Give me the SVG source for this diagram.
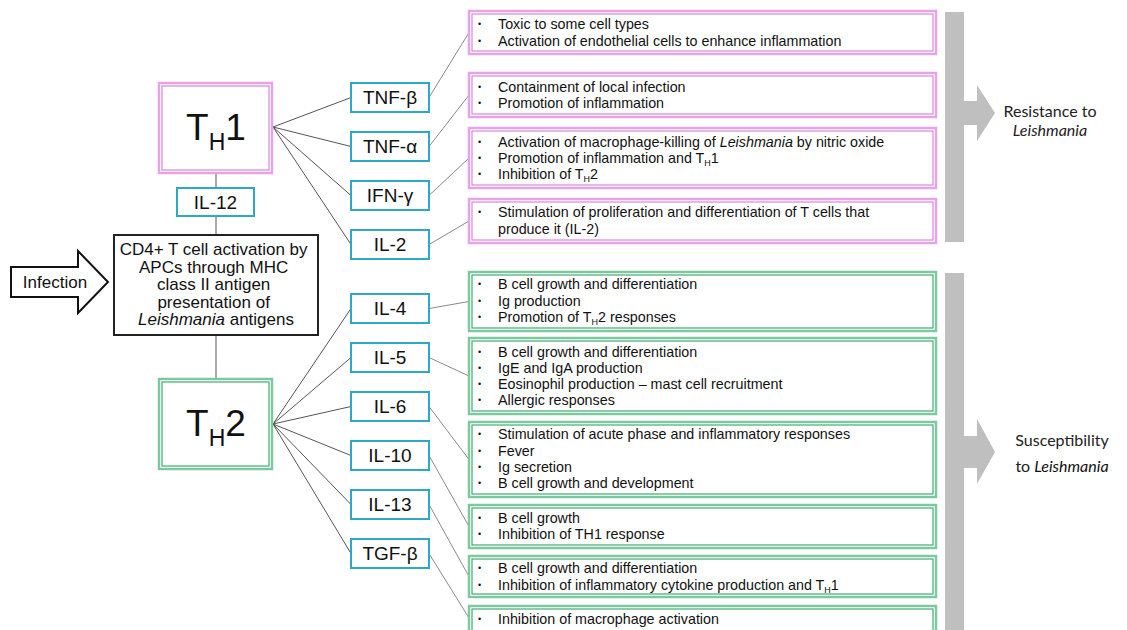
<svg xmlns="http://www.w3.org/2000/svg" width="1127" height="630" viewBox="0 0 1127 630">
<style>
text{font-family:"Liberation Sans",Arial,sans-serif;fill:#111}
tspan{fill:#111}
.cy rect{fill:#fff;stroke:#2ea7c9;stroke-width:2}
.cy text{font-size:19px;text-anchor:middle}
.pk .o{fill:#fff;stroke:#e7a3e7;stroke-width:2.5}
.pk .i{fill:none;stroke:#d987d9;stroke-width:1.2}
.gr .o{fill:#fff;stroke:#7cc9a0;stroke-width:2.5}
.gr .i{fill:none;stroke:#44a874;stroke-width:1.2}
.d{font-size:14.3px}
.b{font-size:9px}
.sub{font-size:9px}
.fan line{stroke:#555;stroke-width:1}
.rt line{stroke:#8a8a8a;stroke-width:1}
.side{font-family:Lato,"Open Sans",sans-serif;font-size:16px;text-anchor:middle;fill:#222}
</style>

<!-- connectors -->
<g id="connectors">
  <g class="fan">
    <line x1="216" y1="173" x2="216" y2="188"/>
    <line x1="216" y1="216" x2="216" y2="235"/>
    <line x1="216" y1="335" x2="216" y2="379"/>
    <line x1="273" y1="127" x2="351" y2="97.5"/>
    <line x1="273" y1="127" x2="351" y2="146.5"/>
    <line x1="273" y1="127" x2="351" y2="195.5"/>
    <line x1="273" y1="127" x2="351" y2="244.5"/>
    <line x1="273" y1="424" x2="351" y2="308.5"/>
    <line x1="273" y1="424" x2="351" y2="357.5"/>
    <line x1="273" y1="424" x2="351" y2="406.5"/>
    <line x1="273" y1="424" x2="351" y2="455.5"/>
    <line x1="273" y1="424" x2="351" y2="504.5"/>
    <line x1="273" y1="424" x2="351" y2="553.5"/>
  </g>
  <g class="rt">
    <line x1="429" y1="97.5" x2="469" y2="32.5"/>
    <line x1="429" y1="146.5" x2="469" y2="95"/>
    <line x1="429" y1="195.5" x2="469" y2="158"/>
    <line x1="429" y1="244.5" x2="469" y2="221"/>
    <line x1="429" y1="308.5" x2="469" y2="301.5"/>
    <line x1="429" y1="357.5" x2="469" y2="376"/>
    <line x1="429" y1="406.5" x2="469" y2="459.5"/>
    <line x1="429" y1="455.5" x2="469" y2="526.5"/>
    <line x1="429" y1="504.5" x2="469" y2="576.5"/>
    <line x1="429" y1="553.5" x2="469" y2="618"/>
  </g>
</g>

<!-- Infection arrow -->
<g id="infection">
  <polygon points="11,267 78,267 78,251 108,282 78,313 78,297 11,297" fill="#fff" stroke="#111" stroke-width="2" stroke-linejoin="miter"/>
  <text x="55" y="288" font-size="17" text-anchor="middle">Infection</text>
</g>

<!-- CD4 box -->
<g id="cd4">
  <rect x="114" y="235" width="204" height="100" fill="#fff" stroke="#222" stroke-width="2"/>
  <text font-size="17" text-anchor="middle">
    <tspan x="216" y="255">CD4+ T cell activation by</tspan>
    <tspan x="216" y="272.5">APCs through MHC</tspan>
    <tspan x="216" y="290">class II antigen</tspan>
    <tspan x="216" y="307.5">presentation of</tspan>
    <tspan x="216" y="325"><tspan font-style="italic">Leishmania</tspan> antigens</tspan>
  </text>
</g>

<!-- TH1 -->
<g id="th1" class="pk">
  <rect class="o" x="159" y="83" width="113" height="90"/>
  <rect class="i" x="162" y="86" width="107" height="84"/>
  <text x="216" y="140" text-anchor="middle"><tspan font-size="37">T</tspan><tspan font-size="23" dy="10">H</tspan><tspan font-size="37" dy="-10">1</tspan></text>
</g>

<!-- TH2 -->
<g id="th2" class="gr">
  <rect class="o" x="159" y="379" width="113" height="90"/>
  <rect class="i" x="162" y="382" width="107" height="84"/>
  <text x="216" y="436" text-anchor="middle"><tspan font-size="37">T</tspan><tspan font-size="23" dy="10">H</tspan><tspan font-size="37" dy="-10">2</tspan></text>
</g>

<!-- IL-12 -->
<g id="il12" class="cy"><rect x="177" y="188" width="77" height="28"/><text x="215.5" y="209">IL-12</text></g>

<!-- TH1 cytokines -->
<g id="tnfb" class="cy"><rect x="351" y="83" width="78" height="29"/><text x="390" y="104">TNF-β</text></g>
<g id="tnfa" class="cy"><rect x="351" y="132" width="78" height="29"/><text x="390" y="153">TNF-α</text></g>
<g id="ifng" class="cy"><rect x="351" y="181" width="78" height="29"/><text x="390" y="202">IFN-γ</text></g>
<g id="il2" class="cy"><rect x="351" y="230" width="78" height="29"/><text x="390" y="251">IL-2</text></g>

<!-- TH2 cytokines -->
<g id="il4" class="cy"><rect x="351" y="294" width="78" height="29"/><text x="390" y="315">IL-4</text></g>
<g id="il5" class="cy"><rect x="351" y="343" width="78" height="29"/><text x="390" y="364">IL-5</text></g>
<g id="il6" class="cy"><rect x="351" y="392" width="78" height="29"/><text x="390" y="413">IL-6</text></g>
<g id="il10" class="cy"><rect x="351" y="441" width="78" height="29"/><text x="390" y="462">IL-10</text></g>
<g id="il13" class="cy"><rect x="351" y="490" width="78" height="29"/><text x="390" y="511">IL-13</text></g>
<g id="tgfb" class="cy"><rect x="351" y="539" width="78" height="29"/><text x="390" y="560">TGF-β</text></g>

<!-- TH1 descriptions -->
<g id="d-tnfb" class="pk">
  <rect class="o" x="469" y="11" width="467" height="43"/><rect class="i" x="472" y="14" width="461" height="37"/>
  <text class="b" x="478" y="27">•</text><text class="d" x="498" y="29">Toxic to some cell types</text>
  <text class="b" x="478" y="44">•</text><text class="d" x="498" y="46">Activation of endothelial cells to enhance inflammation</text>
</g>
<g id="d-tnfa" class="pk">
  <rect class="o" x="469" y="73" width="467" height="44"/><rect class="i" x="472" y="76" width="461" height="38"/>
  <text class="b" x="478" y="90">•</text><text class="d" x="498" y="92">Containment of local infection</text>
  <text class="b" x="478" y="106">•</text><text class="d" x="498" y="108">Promotion of inflammation</text>
</g>
<g id="d-ifng" class="pk">
  <rect class="o" x="469" y="128" width="467" height="60"/><rect class="i" x="472" y="131" width="461" height="54"/>
  <text class="b" x="478" y="145">•</text><text class="d" x="498" y="147">Activation of macrophage-killing of <tspan font-style="italic">Leishmania</tspan> by nitric oxide</text>
  <text class="b" x="478" y="161">•</text><text class="d" x="498" y="163">Promotion of inflammation and T<tspan class="sub" dy="3">H</tspan><tspan dy="-3">1</tspan></text>
  <text class="b" x="478" y="177">•</text><text class="d" x="498" y="179">Inhibition of T<tspan class="sub" dy="3">H</tspan><tspan dy="-3">2</tspan></text>
</g>
<g id="d-il2" class="pk">
  <rect class="o" x="469" y="199" width="467" height="44"/><rect class="i" x="472" y="202" width="461" height="38"/>
  <text class="b" x="478" y="215">•</text><text class="d" x="498" y="217">Stimulation of proliferation and differentiation of T cells that</text>
  <text class="d" x="498" y="234">produce it (IL-2)</text>
</g>

<!-- TH2 descriptions -->
<g id="d-il4" class="gr">
  <rect class="o" x="469" y="272" width="467" height="59"/><rect class="i" x="472" y="275" width="461" height="53"/>
  <text class="b" x="478" y="287">•</text><text class="d" x="498" y="289">B cell growth and differentiation</text>
  <text class="b" x="478" y="304">•</text><text class="d" x="498" y="306">Ig production</text>
  <text class="b" x="478" y="320">•</text><text class="d" x="498" y="322">Promotion of T<tspan class="sub" dy="3">H</tspan><tspan dy="-3">2 responses</tspan></text>
</g>
<g id="d-il5" class="gr">
  <rect class="o" x="469" y="338" width="467" height="76"/><rect class="i" x="472" y="341" width="461" height="70"/>
  <text class="b" x="478" y="355">•</text><text class="d" x="498" y="357">B cell growth and differentiation</text>
  <text class="b" x="478" y="371">•</text><text class="d" x="498" y="373">IgE and IgA production</text>
  <text class="b" x="478" y="387">•</text><text class="d" x="498" y="389">Eosinophil production – mast cell recruitment</text>
  <text class="b" x="478" y="403">•</text><text class="d" x="498" y="405">Allergic responses</text>
</g>
<g id="d-il6" class="gr">
  <rect class="o" x="469" y="422" width="467" height="75"/><rect class="i" x="472" y="425" width="461" height="69"/>
  <text class="b" x="478" y="437">•</text><text class="d" x="498" y="439">Stimulation of acute phase and inflammatory responses</text>
  <text class="b" x="478" y="454">•</text><text class="d" x="498" y="456">Fever</text>
  <text class="b" x="478" y="470">•</text><text class="d" x="498" y="472">Ig secretion</text>
  <text class="b" x="478" y="486">•</text><text class="d" x="498" y="488">B cell growth and development</text>
</g>
<g id="d-il10" class="gr">
  <rect class="o" x="469" y="505" width="467" height="43"/><rect class="i" x="472" y="508" width="461" height="37"/>
  <text class="b" x="478" y="521">•</text><text class="d" x="498" y="523">B cell growth</text>
  <text class="b" x="478" y="537">•</text><text class="d" x="498" y="539">Inhibition of TH1 response</text>
</g>
<g id="d-il13" class="gr">
  <rect class="o" x="469" y="556" width="467" height="41"/><rect class="i" x="472" y="559" width="461" height="35"/>
  <text class="b" x="478" y="571">•</text><text class="d" x="498" y="573">B cell growth and differentiation</text>
  <text class="b" x="478" y="588">•</text><text class="d" x="498" y="590">Inhibition of inflammatory cytokine production and T<tspan class="sub" dy="3">H</tspan><tspan dy="-3">1</tspan></text>
</g>
<g id="d-tgfb" class="gr">
  <rect class="o" x="469" y="606" width="467" height="36"/><rect class="i" x="472" y="609" width="461" height="30"/>
  <text class="b" x="478" y="622">•</text><text class="d" x="498" y="624">Inhibition of macrophage activation</text>
</g>

<!-- Outcome arrows -->
<g id="resistance">
  <polygon points="945,12 964,12 964,101 977,101 977,85 995,113 977,141 977,125 964,125 964,242 945,242" fill="#bfbfbf"/>
  <text class="side" x="1050" y="117">Resistance to</text>
  <text class="side" x="1050" y="136" font-style="italic">Leishmania</text>
</g>
<g id="susceptibility">
  <polygon points="945,273 964,273 964,436 977,436 977,419 995,452 977,484 977,468 964,468 964,630 945,630" fill="#bfbfbf"/>
  <text class="side" x="1062" y="446">Susceptibility</text>
  <text class="side" x="1062" y="472">to <tspan font-style="italic">Leishmania</tspan></text>
</g>
</svg>
